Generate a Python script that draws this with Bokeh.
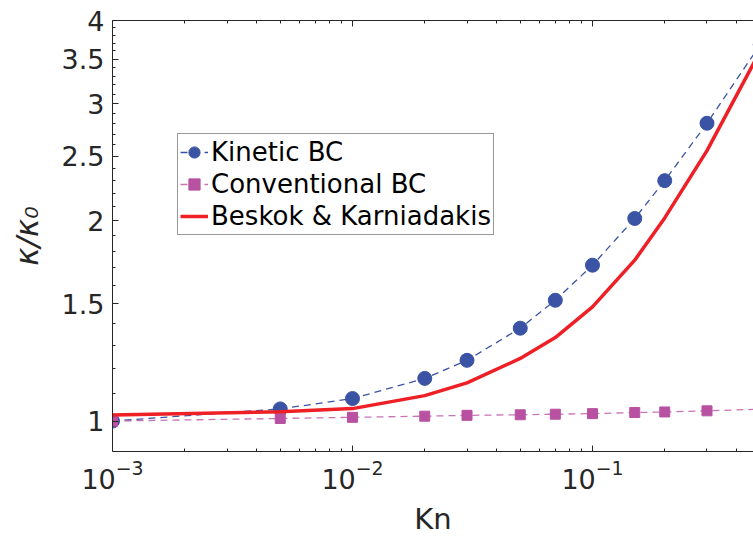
from bokeh.plotting import figure
from bokeh.models import Range1d, FixedTicker, LogAxis, Legend, LegendItem, BasicTickFormatter
from bokeh.embed import file_html
from bokeh.resources import INLINE

# ---- data ----
kn = [0.001, 0.005, 0.01, 0.02, 0.03, 0.05, 0.07, 0.1, 0.15, 0.2, 0.3, 0.5]
kinetic_bc = [1.0, 1.043, 1.081, 1.159, 1.234, 1.379, 1.519, 1.715, 2.016, 2.298, 2.803, 3.68]
conventional_bc = [1.0, 1.009, 1.013, 1.017, 1.020, 1.022, 1.024, 1.026, 1.030, 1.032, 1.036, 1.042]
beskok_karniadakis = [1.021, 1.033, 1.044, 1.092, 1.141, 1.242, 1.335, 1.485, 1.745, 2.02, 2.55, 3.6]

y_major = [1, 1.5, 2, 2.5, 3, 3.5, 4]
y_minor = [1.1, 1.2, 1.3, 1.4, 1.6, 1.7, 1.8, 1.9, 2.1, 2.2, 2.3, 2.4,
           2.6, 2.7, 2.8, 2.9, 3.1, 3.2, 3.3, 3.4, 3.6, 3.7, 3.8, 3.9]
x_major = [1e-3, 1e-2, 1e-1]
x_minor = [m * d for d in (1e-3, 1e-2, 1e-1) for m in range(2, 10)]

FONT = "DejaVu Sans"
TXT = "#262626"
BLUE = "#3a53a4"
PINK = "#b851a1"
RED = "#ee1f25"

p = figure(width=753, height=540, x_axis_type="log", y_axis_type="log",
           x_range=Range1d(1e-3, 0.4687), y_range=Range1d(0.9, 4.0),
           output_backend="svg", toolbar_location=None,
           min_border_left=112, min_border_right=0, min_border_top=20, min_border_bottom=89)
p.outline_line_color = None
p.xgrid.visible = False
p.ygrid.visible = False
p.background_fill_color = "white"
p.border_fill_color = "white"

xt = FixedTicker(ticks=x_major, minor_ticks=x_minor)
yt = FixedTicker(ticks=y_major, minor_ticks=y_minor)

for ax in (p.xaxis[0], p.yaxis[0]):
    ax.axis_line_color = TXT
    ax.major_tick_line_color = TXT
    ax.minor_tick_line_color = TXT
    ax.major_tick_in = 6
    ax.major_tick_out = 0
    ax.minor_tick_in = 3
    ax.minor_tick_out = 0
    ax.major_label_text_font = FONT
    ax.major_label_text_font_size = "27px"
    ax.major_label_text_color = TXT
    ax.axis_label_text_font = FONT
    ax.axis_label_text_font_size = "29px"
    ax.axis_label_text_color = TXT
    ax.axis_label_text_font_style = "normal"

p.xaxis[0].ticker = xt
p.yaxis[0].ticker = yt
p.yaxis[0].formatter = BasicTickFormatter()
p.xaxis[0].axis_label = "Kn"
p.yaxis[0].axis_label = "κ/κ₀"
p.yaxis[0].axis_label_text_font_size = "31px"
p.yaxis[0].axis_label_text_font_style = "italic"
p.xaxis[0].major_label_standoff = 8
p.yaxis[0].major_label_standoff = 8
p.xaxis[0].axis_label_standoff = 10
p.yaxis[0].axis_label_standoff = 14

top = LogAxis(ticker=xt, major_label_text_font_size="0px", major_label_text_alpha=0,
              axis_line_color=TXT, major_tick_line_color=TXT, minor_tick_line_color=TXT,
              major_tick_in=6, major_tick_out=0, minor_tick_in=3, minor_tick_out=0,
              major_label_standoff=0)
p.add_layout(top, "above")

# series
kl = p.line(kn, kinetic_bc, line_color=BLUE, line_width=1.3, line_dash="7 5")
kc = p.scatter(kn, kinetic_bc, marker="circle", size=14, fill_color=BLUE, line_color=BLUE)
cl = p.line(kn, conventional_bc, line_color=PINK, line_width=1.3, line_dash="7 5", line_alpha=0.8)
cs = p.scatter(kn, conventional_bc, marker="square", size=10, fill_color=PINK, line_color=PINK)
bl = p.line(kn, beskok_karniadakis, line_color=RED, line_width=3.5)

legend = Legend(items=[
    LegendItem(label="Kinetic BC", renderers=[kl, kc]),
    LegendItem(label="Conventional BC", renderers=[cl, cs]),
    LegendItem(label="Beskok & Karniadakis", renderers=[bl]),
], location=(65, 216))
legend.label_text_font = FONT
legend.label_text_font_size = "26px"
legend.label_text_color = "black"
legend.border_line_color = "#333333"
legend.border_line_width = 1
legend.background_fill_color = "white"
legend.background_fill_alpha = 1
legend.padding = 2
legend.margin = 0
legend.spacing = 0
legend.label_height = 32
legend.glyph_height = 32
legend.glyph_width = 28
legend.label_standoff = 3
p.add_layout(legend, "center")

open("out.html", "w").write(file_html(p, INLINE))
